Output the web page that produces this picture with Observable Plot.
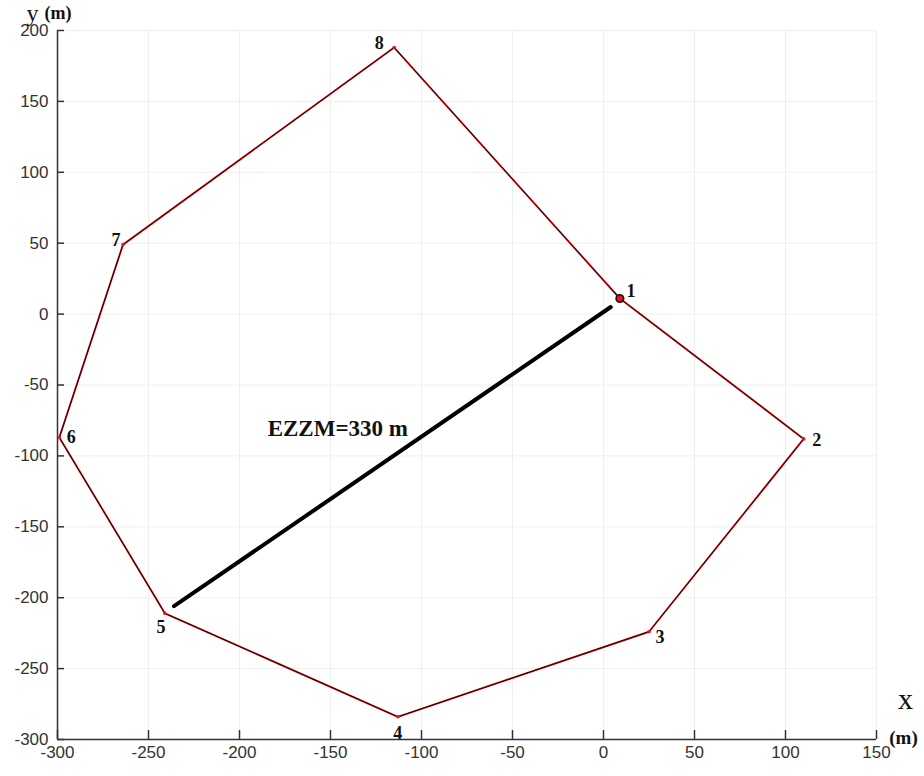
<!DOCTYPE html>
<html>
<head>
<meta charset="utf-8">
<script src="https://cdn.jsdelivr.net/npm/d3@7"></script>
<script src="https://cdn.jsdelivr.net/npm/@observablehq/plot@0.6"></script>
<style>
  html, body { margin: 0; padding: 0; background: #ffffff; overflow: hidden; }
  #chart svg { display: block; }
</style>
</head>
<body>
<div id="chart"></div>
<script>
// ---- data ----
const vertexIds = [1, 2, 3, 4, 5, 6, 7, 8];
const vertexX = [9, 110, 25, -113, -241, -299, -264, -115];
const vertexY = [11, -88, -224, -284, -211, -87, 49, 188];
const ezzmLabel = "EZZM=330 m";
const ezzmX = [-236, 4];
const ezzmY = [-206, 5];
const ezzmTextPos = {x: -146, y: -81};
const xTicks = [-300, -250, -200, -150, -100, -50, 0, 50, 100, 150];
const yTicks = [-300, -250, -200, -150, -100, -50, 0, 50, 100, 150, 200];

// ---- layout (label offsets in px) ----
const labelDx = [11, 13, 11, 0, -4, 12, -7, -15];
const labelDy = [-7, 1, 6, 16, 14, 0, -4, -4];

const vertices = vertexIds.map((id, i) => ({id, x: vertexX[i], y: vertexY[i]}));
const ring = [...vertices, vertices[0]];
const ezzm = ezzmX.map((x, i) => ({x, y: ezzmY[i]}));

const serif = "'Liberation Serif', 'Times New Roman', serif";
const sans = "'Liberation Sans', Arial, sans-serif";

const vertexLabels = vertices.map((v, i) =>
  Plot.text([v], {x: "x", y: "y", text: "id", dx: labelDx[i], dy: labelDy[i],
    fontFamily: serif, fontWeight: "bold", fontSize: 18, fill: "#111"}));

const titleText = (t, frameAnchor, textAnchor, dx, dy, size, weight) =>
  Plot.text([t], {frameAnchor, textAnchor, lineAnchor: "middle", dx, dy, text: d => d,
    fontFamily: serif, fontSize: size, fontWeight: weight, fill: "#111"});

const chart = Plot.plot({
  width: 924,
  height: 776,
  marginLeft: 57,
  marginRight: 48,
  marginTop: 30,
  marginBottom: 37,
  style: {background: "#ffffff", fontFamily: sans, fontSize: "17px", color: "#333", overflow: "visible"},
  x: {domain: [-300, 150], label: null},
  y: {domain: [-300, 200], label: null},
  marks: [
    Plot.gridX(xTicks, {stroke: "#efefef", strokeOpacity: 1}),
    Plot.gridY(yTicks, {stroke: "#efefef", strokeOpacity: 1}),
    Plot.axisX({ticks: xTicks, tickSize: -9, tickPadding: 15, fontSize: 17, fill: "#333", stroke: "#333", strokeWidth: 1.5, tickFormat: d => d}),
    Plot.axisY({ticks: yTicks, tickSize: -7, tickPadding: 16, fontSize: 17, fill: "#333", stroke: "#333", strokeWidth: 1.5, tickFormat: d => d}),
    Plot.ruleX([-300], {stroke: "#333", strokeWidth: 1.5}),
    Plot.ruleY([-300], {stroke: "#333", strokeWidth: 1.5}),
    // polygon: red line with dark core
    Plot.line(ring, {x: "x", y: "y", stroke: "#e8141b", strokeWidth: 1.9}),
    Plot.line(ring, {x: "x", y: "y", stroke: "#120303", strokeWidth: 1}),
    Plot.dot(vertices.slice(1), {x: "x", y: "y", r: 1.8, fill: "#e8141b"}),
    Plot.dot(vertices.slice(0, 1), {x: "x", y: "y", r: 3.8, fill: "#e8141b", stroke: "#111", strokeWidth: 1.6}),
    // EZZM segment
    Plot.line(ezzm, {x: "x", y: "y", stroke: "#000", strokeWidth: 4}),
    Plot.text([ezzmTextPos], {x: "x", y: "y", text: () => ezzmLabel, fontFamily: serif, fontWeight: "bold", fontSize: 23, fill: "#111"}),
    // vertex numbers
    ...vertexLabels,
    // axis titles
    titleText("y", "top-left", "start", -31, -17, 24, "normal"),
    titleText("(m)", "top-left", "start", -13, -17, 18, "bold"),
    titleText("x", "bottom-right", "middle", 29, -40, 30, "normal"),
    titleText("(m)", "bottom-right", "middle", 27, -2, 19, "bold")
  ]
});
document.getElementById("chart").appendChild(chart);
</script>
</body>
</html>
